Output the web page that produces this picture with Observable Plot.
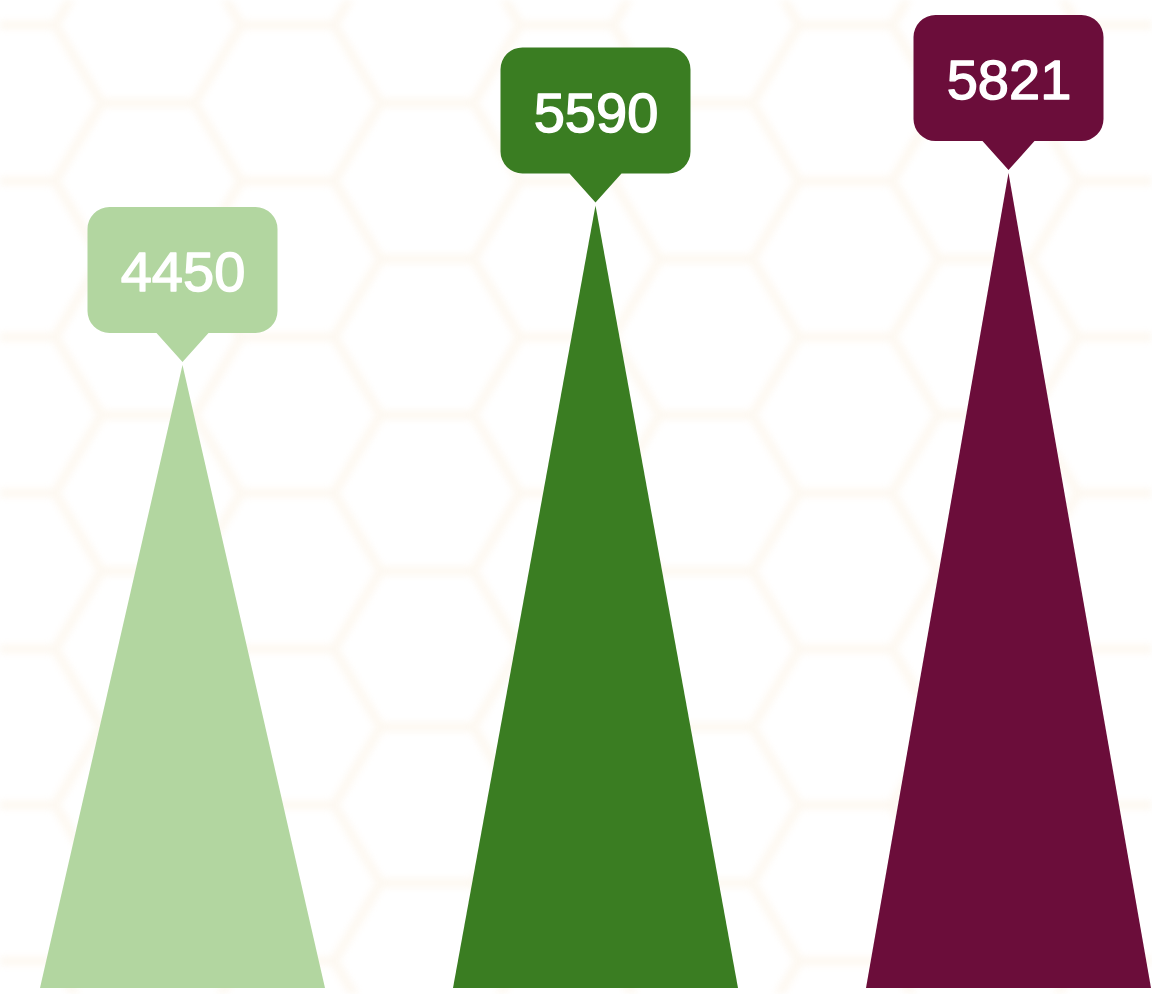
<!DOCTYPE html>
<html>
<head>
<meta charset="utf-8">
<script src="https://cdn.jsdelivr.net/npm/d3@7"></script>
<script src="https://cdn.jsdelivr.net/npm/@observablehq/plot@0.6"></script>
<style>
  html, body { margin: 0; padding: 0; background: #ffffff; overflow: hidden; }
  #chart svg { display: block; }
</style>
</head>
<body>
<div id="chart"></div>
<script>
// ---- data ----
const categories = ["A", "B", "C"];
const values = [4450, 5590, 5821];
const labels = ["4450", "5590", "5821"];
const colors = ["#b2d6a0", "#3a7d22", "#6b0d3a"];

const data = categories.map((c, i) => ({category: c, value: values[i], label: labels[i], color: colors[i]}));

// triangle (spike) mark drawn from band + linear scales
function triangleRender(index, scales, vals, dims) {
  const g = d3.create("svg:g");
  const bw = scales.x.bandwidth();
  for (const i of index) {
    const d = data[i];
    const x0 = scales.x(d.category);
    const x1 = x0 + bw;
    const cx = x0 + bw / 2;
    const yb = scales.y(0);
    const yt = scales.y(d.value);
    g.append("path")
      .attr("d", `M${x0},${yb}L${cx},${yt}L${x1},${yb}Z`)
      .attr("fill", d.color);
  }
  return g.node();
}

// callout box with pointer
function calloutRender(index, scales, vals, dims) {
  const g = d3.create("svg:g");
  const bw = scales.x.bandwidth();
  for (const i of index) {
    const d = data[i];
    const cx = scales.x(d.category) + bw / 2;
    const cy = scales.y(d.value);
    const w = 95, r = 22, ph = 26;
    const bottom = cy - 32, top = cy - 158, tip = cy - 3;
    const p = `M${cx - w + r},${top}H${cx + w - r}A${r},${r} 0 0 1 ${cx + w},${top + r}` +
      `V${bottom - r}A${r},${r} 0 0 1 ${cx + w - r},${bottom}H${cx + ph}L${cx},${tip}L${cx - ph},${bottom}` +
      `H${cx - w + r}A${r},${r} 0 0 1 ${cx - w},${bottom - r}V${top + r}A${r},${r} 0 0 1 ${cx - w + r},${top}Z`;
    g.append("path").attr("d", p).attr("fill", d.color);
  }
  return g.node();
}

const chart = Plot.plot({
  width: 1152,
  height: 994,
  marginLeft: 40,
  marginRight: 1,
  marginTop: 8,
  marginBottom: 6,
  x: {type: "band", domain: categories, paddingInner: 0.31, paddingOuter: 0, axis: null},
  y: {domain: [0, 7000], axis: null},
  style: {background: "transparent"},
  marks: [
    Plot.barY(data, {x: "category", y: "value", fill: "color", render: triangleRender}),
    Plot.dot(data, {x: "category", y: "value", fill: "color", render: calloutRender}),
    Plot.text(data, {
      x: "category", y: "value", text: "label", dy: -92,
      fill: "white", stroke: "white", strokeWidth: 1.4,
      fontSize: 56, fontFamily: "'Liberation Sans', Arial, sans-serif",
      lineAnchor: "middle", textAnchor: "middle"
    })
  ]
});

// faint, blurred hexagon background pattern
(function addPattern(svg) {
  const s = 93, hh = 78;            // half width, half height of a hexagon cell
  const tw = 3 * s, th = 2 * hh;
  const sel = d3.select(svg);
  const defs = sel.insert("defs", ":first-child");
  defs.append("filter").attr("id", "hexblur")
    .attr("x", "-10%").attr("y", "-10%").attr("width", "120%").attr("height", "120%")
    .append("feGaussianBlur").attr("stdDeviation", 3.5);
  const pat = defs.append("pattern")
    .attr("id", "hexbg")
    .attr("patternUnits", "userSpaceOnUse")
    .attr("width", tw)
    .attr("height", th)
    .attr("x", 427 % tw)
    .attr("y", 337 % th);
  const hex = (cx, cy) => {
    const pts = [[cx + s, cy], [cx + s / 2, cy + hh], [cx - s / 2, cy + hh], [cx - s, cy], [cx - s / 2, cy - hh], [cx + s / 2, cy - hh]];
    return "M" + pts.map(p => p.join(",")).join("L") + "Z";
  };
  const centers = [[0, 0], [tw, 0], [0, th], [tw, th], [1.5 * s, hh]];
  for (const [cx, cy] of centers) {
    pat.append("path").attr("d", hex(cx, cy))
      .attr("fill", "none").attr("stroke", "#fbeedb").attr("stroke-width", 9);
  }
  sel.insert("rect", "defs + *")
    .attr("x", 0).attr("y", 0).attr("width", 1152).attr("height", 994)
    .attr("fill", "url(#hexbg)")
    .attr("opacity", 0.38)
    .attr("filter", "url(#hexblur)");
})(chart);

document.getElementById("chart").appendChild(chart);
</script>
</body>
</html>
